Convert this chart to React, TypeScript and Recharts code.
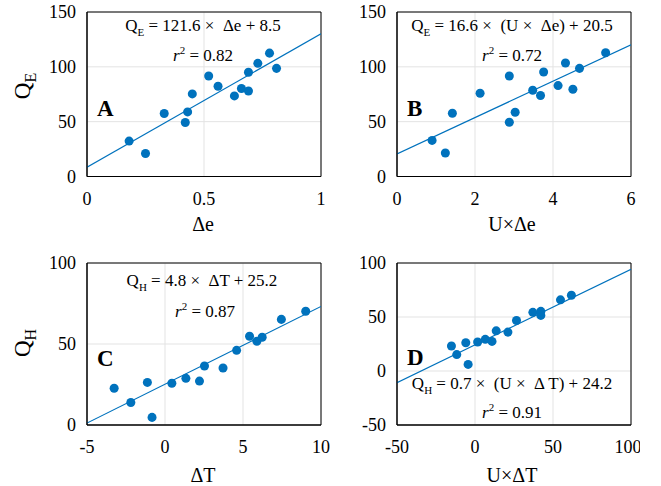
import React from 'react';
import {
  ScatterChart,
  Scatter,
  XAxis,
  YAxis,
  ZAxis,
  CartesianGrid,
  ReferenceArea,
  ReferenceLine,
} from 'recharts';

// Panel A: Q_E vs Δe
const aX = [0.18, 0.25, 0.33, 0.42, 0.43, 0.45, 0.52, 0.56, 0.63, 0.66, 0.69, 0.69, 0.73, 0.78, 0.81];
const aY = [32.3, 21, 57.4, 49.2, 58.9, 75.3, 91.7, 82.3, 73.5, 80.2, 78, 95, 103.2, 112.5, 98.6];
// Panel B: Q_E vs U×Δe
const bX = [0.9, 1.24, 1.42, 2.13, 2.88, 2.88, 3.03, 3.48, 3.68, 3.76, 4.13, 4.32, 4.51, 4.68, 5.35];
const bY = [32.9, 21.4, 57.7, 75.9, 91.7, 49.5, 58.6, 78.6, 73.8, 95.3, 82.9, 103.5, 79.5, 98.6, 112.9];
// Panel C: Q_H vs ΔT
const cX = [-3.26, -2.19, -1.13, -0.83, 0.44, 1.34, 2.21, 2.53, 3.72, 4.59, 5.42, 5.89, 6.23, 7.46, 9.02];
const cY = [22.7, 13.9, 26.3, 4.7, 25.8, 28.8, 27.1, 36.4, 35.2, 46.1, 54.8, 51.7, 54.2, 65.2, 70.2];
// Panel D: Q_H vs U×ΔT
const dX = [-15.1, -11.7, -5.9, -4.4, 1.7, 6.6, 10.9, 13.6, 21.1, 26.6, 37.1, 42.2, 42.2, 54.8, 61.8];
const dY = [23.2, 15.2, 26.2, 6.1, 26.8, 29.3, 27.4, 37.2, 36, 46.7, 54.3, 51.5, 55.2, 65.9, 70.2];

// fit coefficients [slope, intercept]
const fitA = [121.6, 8.5];
const fitB = [16.6, 20.5];
const fitC = [4.8, 25.2];
const fitD = [0.7, 24.2];

const xTicksA = [0, 0.5, 1];
const xTicksB = [0, 2, 4, 6];
const xTicksC = [-5, 0, 5, 10];
const xTicksD = [-50, 0, 50, 100];
const yTicksTop = [0, 50, 100, 150];
const yTicksC = [0, 50, 100];
const yTicksD = [-50, 0, 50, 100];

const BLUE = '#0072BD';
const FONT = '"Liberation Serif", "Times New Roman", serif';

const XTick = (props: any) => {
  const { x, y, payload } = props;
  return (
    <text x={x} y={y + 26} textAnchor="middle" fontSize={18} fontFamily={FONT} fill="#000">
      {payload.value}
    </text>
  );
};

const YTick = (props: any) => {
  const { x, y, payload } = props;
  return (
    <text x={x - 9} y={y + 6} textAnchor="end" fontSize={18} fontFamily={FONT} fill="#000">
      {payload.value}
    </text>
  );
};

type PanelProps = {
  left: number;
  top: number;
  xs: number[];
  ys: number[];
  fit: number[];
  xTicks: number[];
  yTicks: number[];
  marginTop: number;
  plotHeight: number;
};

const Panel = ({ left, top, xs, ys, fit, xTicks, yTicks, marginTop, plotHeight }: PanelProps) => {
  const data = xs.map((x, i) => ({ x, y: ys[i] }));
  const x0 = xTicks[0];
  const x1 = xTicks[xTicks.length - 1];
  const y0 = yTicks[0];
  const y1 = yTicks[yTicks.length - 1];
  const width = 330;
  const height = 240;
  const xAxisHeight = 60;
  const bottom = height - marginTop - plotHeight - xAxisHeight;
  return (
    <div style={{ position: 'absolute', left, top }}>
      <ScatterChart width={width} height={height} margin={{ top: marginTop, right: 9, bottom, left: 0 }}>
        <CartesianGrid stroke="#e3e3e3" />
        <XAxis
          type="number"
          dataKey="x"
          domain={[x0, x1]}
          ticks={xTicks}
          height={xAxisHeight}
          tick={<XTick />}
          tickLine={false}
          tickSize={0}
          axisLine={{ stroke: '#000' }}
          allowDataOverflow
        />
        <YAxis
          type="number"
          dataKey="y"
          domain={[y0, y1]}
          ticks={yTicks}
          width={87}
          tick={<YTick />}
          tickLine={false}
          tickSize={0}
          axisLine={{ stroke: '#000' }}
          allowDataOverflow
        />
        <ZAxis range={[88, 88]} />
        <ReferenceArea x1={x0} x2={x1} y1={y0} y2={y1} fill="none" stroke="#000" strokeWidth={1} />
        <ReferenceLine
          segment={[
            { x: x0, y: fit[0] * x0 + fit[1] },
            { x: x1, y: fit[0] * x1 + fit[1] },
          ]}
          stroke={BLUE}
          strokeWidth={1.2}
          ifOverflow="hidden"
        />
        <Scatter data={data} fill={BLUE} shape="circle" isAnimationActive={false} />
      </ScatterChart>
    </div>
  );
};

const Sub = ({ children, size = 12 }: { children: React.ReactNode; size?: number }) => (
  <tspan dy={6} fontSize={size}>
    {children}
  </tspan>
);

const T = (props: any) => <text fontFamily={FONT} fill="#000" {...props} />;

const Eq = ({ x, y, q, sub, rest }: { x: number; y: number; q: string; sub: string; rest: string }) => (
  <T x={x} y={y} fontSize={17} textAnchor="middle" style={{ whiteSpace: 'pre' }}>
    {q}
    <tspan dy={5} fontSize={11}>{sub}</tspan>
    <tspan dy={-5}>{rest}</tspan>
  </T>
);

const R2 = ({ x, y, v }: { x: number; y: number; v: string }) => (
  <T x={x} y={y} fontSize={17} textAnchor="middle">
    <tspan fontStyle="italic">r</tspan>
    <tspan dy={-7} fontSize={11}>2</tspan>
    <tspan dy={7}>{' = ' + v}</tspan>
  </T>
);

const App = () => {
  return (
    <div
      style={{
        position: 'absolute',
        left: 0,
        top: 0,
        width: 661,
        height: 486,
        background: '#fff',
        fontFamily: FONT,
      }}
    >
      <Panel left={0} top={0} xs={aX} ys={aY} fit={fitA} xTicks={xTicksA} yTicks={yTicksTop} marginTop={12} plotHeight={164.5} />
      <Panel left={310} top={0} xs={bX} ys={bY} fit={fitB} xTicks={xTicksB} yTicks={yTicksTop} marginTop={12} plotHeight={164.5} />
      <Panel left={0} top={250} xs={cX} ys={cY} fit={fitC} xTicks={xTicksC} yTicks={yTicksC} marginTop={13} plotHeight={162} />
      <Panel left={310} top={250} xs={dX} ys={dY} fit={fitD} xTicks={xTicksD} yTicks={yTicksD} marginTop={13} plotHeight={162} />

      <svg width={661} height={486} style={{ position: 'absolute', left: 0, top: 0, pointerEvents: 'none' }}>
        {/* y axis labels */}
        <T x={30} y={86} fontSize={23} textAnchor="middle" transform="rotate(-90 30 86)">
          Q<Sub size={16}>E</Sub>
        </T>
        <T x={30} y={343} fontSize={23} textAnchor="middle" transform="rotate(-90 30 343)">
          Q<Sub size={16}>H</Sub>
        </T>

        {/* x axis labels */}
        <T x={203} y={231} fontSize={20} textAnchor="middle">Δe</T>
        <T x={512} y={231} fontSize={20} textAnchor="middle">U×Δe</T>
        <T x={203} y={482} fontSize={20} textAnchor="middle">ΔT</T>
        <T x={512} y={482} fontSize={20} textAnchor="middle">U×ΔT</T>

        {/* panel letters */}
        <T x={97} y={116} fontSize={23} fontWeight="bold">A</T>
        <T x={407} y={116} fontSize={23} fontWeight="bold">B</T>
        <T x={97} y={366} fontSize={23} fontWeight="bold">C</T>
        <T x={407} y={365} fontSize={23} fontWeight="bold">D</T>

        {/* fit annotations */}
        <Eq x={203} y={31} q="Q" sub="E" rest=" = 121.6 ×  Δe + 8.5" />
        <R2 x={203} y={61} v="0.82" />
        <Eq x={512} y={31} q="Q" sub="E" rest=" = 16.6 ×  (U ×  Δe) + 20.5" />
        <R2 x={512} y={61} v="0.72" />
        <Eq x={202} y={286} q="Q" sub="H" rest=" = 4.8 ×  ΔT + 25.2" />
        <R2 x={205} y={317} v="0.87" />
        <Eq x={512} y={389} q="Q" sub="H" rest=" = 0.7 ×  (U ×  Δ T) + 24.2" />
        <R2 x={512} y={418} v="0.91" />
      </svg>
    </div>
  );
};

export default App;
